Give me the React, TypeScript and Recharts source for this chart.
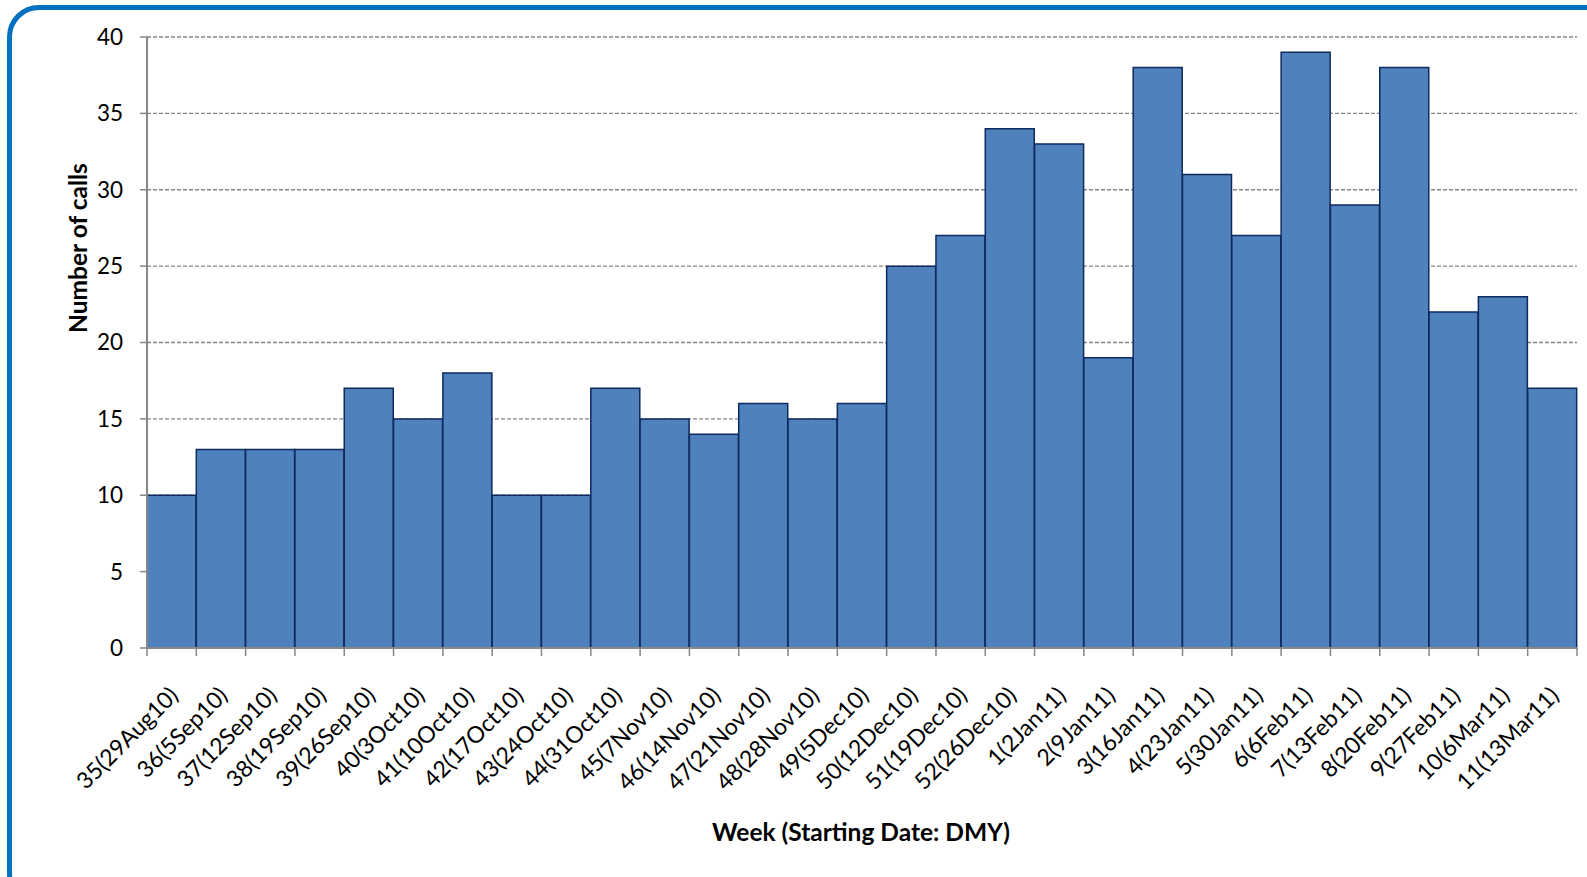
import { BarChart, Bar, XAxis, YAxis, CartesianGrid, Label } from "recharts";

const weeks = [
  "35(29Aug10)", "36(5Sep10)", "37(12Sep10)", "38(19Sep10)", "39(26Sep10)",
  "40(3Oct10)", "41(10Oct10)", "42(17Oct10)", "43(24Oct10)", "44(31Oct10)",
  "45(7Nov10)", "46(14Nov10)", "47(21Nov10)", "48(28Nov10)", "49(5Dec10)",
  "50(12Dec10)", "51(19Dec10)", "52(26Dec10)", "1(2Jan11)", "2(9Jan11)",
  "3(16Jan11)", "4(23Jan11)", "5(30Jan11)", "6(6Feb11)", "7(13Feb11)",
  "8(20Feb11)", "9(27Feb11)", "10(6Mar11)", "11(13Mar11)",
];

const calls = [
  10, 13, 13, 13, 17, 15, 18, 10, 10, 17, 15, 14, 16, 15, 16,
  25, 27, 34, 33, 19, 38, 31, 27, 39, 29, 38, 22, 23, 17,
];

const yTicks = [0, 5, 10, 15, 20, 25, 30, 35, 40];

const data = weeks.map((week, i) => ({ week, calls: calls[i] }));

const W = 1587;
const H = 877;
const PLOT_LEFT = 147;
const PLOT_RIGHT = 1577;
const BAND = (PLOT_RIGHT - PLOT_LEFT) / weeks.length;
const AXIS = "#868686";
const FONT = "Lato, 'Open Sans', sans-serif";

// Excel-style: tick marks on category boundaries, labels rotated 45deg
function WeekTick(props: any) {
  const { x, y, payload, index } = props;
  const left = x - BAND / 2;
  const right = x + BAND / 2;
  const ax = x + 8;
  const ay = y + 49;
  return (
    <g>
      <line x1={left} y1={y} x2={left} y2={y + 8} stroke={AXIS} strokeWidth={1.5} />
      {index === weeks.length - 1 && (
        <line x1={right} y1={y} x2={right} y2={y + 8} stroke={AXIS} strokeWidth={1.5} />
      )}
      <text
        x={ax}
        y={ay}
        transform={`rotate(-45, ${ax}, ${ay})`}
        textAnchor="end"
        fontSize={23}
        fontFamily={FONT}
        fill="#000"
      >
        {payload.value}
      </text>
    </g>
  );
}

export default function App() {
  return (
    <div style={{ position: "absolute", left: 0, top: 0, width: W, height: H, overflow: "hidden", background: "#fff" }}>
      <div
        style={{
          position: "absolute",
          left: 7,
          top: 5,
          width: 1620,
          height: 900,
          border: "5.5px solid #0070C0",
          borderRadius: 32,
          boxSizing: "border-box",
        }}
      />
      <div style={{ position: "absolute", left: 0, top: 0 }}>
        <BarChart
          width={W}
          height={H}
          data={data}
          margin={{ top: 37, right: W - PLOT_RIGHT, left: 0, bottom: 0 }}
          barCategoryGap={0}
          barGap={0}
        >
          <CartesianGrid vertical={false} stroke={AXIS} strokeDasharray="4 2" strokeWidth={1.3} />
          <XAxis
            dataKey="week"
            height={229}
            interval={0}
            tickSize={0}
            tickMargin={0}
            tickLine={false}
            axisLine={{ stroke: AXIS, strokeWidth: 2 }}
            tick={<WeekTick />}
          >
            <Label
              content={() => (
                <text x={861} y={841} textAnchor="middle" fontSize={24.5} fontWeight="bold" fontFamily={FONT} fill="#000">
                  Week (Starting Date: DMY)
                </text>
              )}
            />
          </XAxis>
          <YAxis
            width={PLOT_LEFT}
            domain={[0, 40]}
            ticks={yTicks}
            interval={0}
            tickSize={7}
            tickMargin={17}
            tickLine={{ stroke: AXIS, strokeWidth: 1.5 }}
            axisLine={{ stroke: AXIS, strokeWidth: 2 }}
            tick={{ fill: "#000", fontSize: 22.5, fontFamily: FONT }}
          >
            <Label
              content={() => (
                <text
                  x={87}
                  y={248}
                  transform="rotate(-90, 87, 248)"
                  textAnchor="middle"
                  fontSize={24.5}
                  fontWeight="bold"
                  fontFamily={FONT}
                  fill="#000"
                >
                  Number of calls
                </text>
              )}
            />
          </YAxis>
          <Bar dataKey="calls" fill="#4F81BD" stroke="#0F2A5E" strokeWidth={1.5} isAnimationActive={false} />
        </BarChart>
      </div>
    </div>
  );
}
